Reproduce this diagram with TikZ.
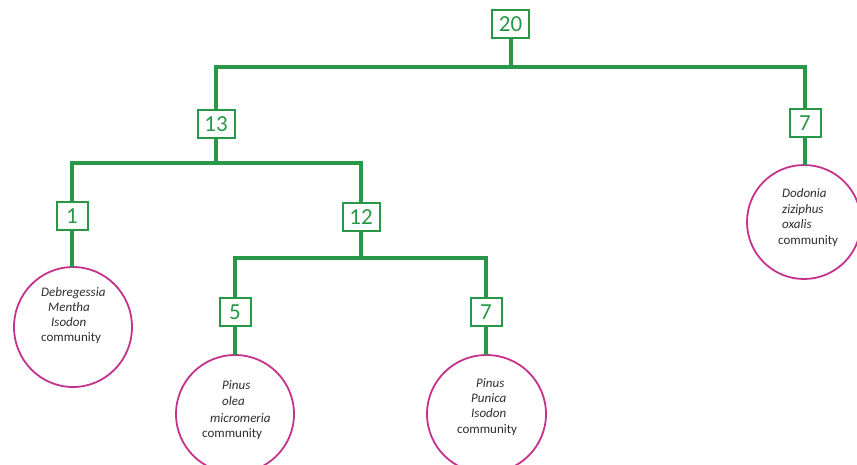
\documentclass[tikz,border=0pt]{standalone}
\usepackage{fontspec}
\setmainfont{Carlito}
\definecolor{tgreen}{RGB}{40,152,72}
\definecolor{tmag}{RGB}{196,50,140}
\definecolor{ttext}{RGB}{45,45,45}
\begin{document}
\begin{tikzpicture}[x=1pt,y=-1pt,
  numbox/.style={draw=tgreen,line width=2pt,text=tgreen,inner sep=0pt,
    minimum height=28pt,font=\fontsize{23}{25}\selectfont},
  wide/.style={minimum width=37pt},
  narrow/.style={minimum width=31pt},
  conn/.style={draw=tgreen,line width=4pt},
  ring/.style={draw=tmag,line width=1.8pt},
  lbl/.style={anchor=base west,inner sep=0pt,text=ttext,font=\fontsize{13}{15}\selectfont},
  sp/.style={lbl,font=\fontsize{13}{15}\selectfont\itshape}]
\useasboundingbox (0,0) rectangle (857,464);
% boxes
\node[numbox,wide] (n20) at (510.5,24) {20};
\node[numbox,wide] (n13) at (216,124) {13};
\node[numbox,narrow] (n7r) at (805,123) {7};
\node[numbox,narrow] (n1) at (72,216) {1};
\node[numbox,wide] (n12) at (361,217) {12};
\node[numbox,narrow] (n5) at (235,312) {5};
\node[numbox,narrow] (n7m) at (486,312) {7};
% junction coordinates
\coordinate (b1) at (510.5,67);
\coordinate (b2) at (216,163);
\coordinate (b3) at (361,258);
% circles
\draw[ring] (73,327) ellipse [x radius=59pt,y radius=60pt];
\coordinate (c1) at (72,267);
\draw[ring] (235,414) ellipse [x radius=59pt,y radius=59pt];
\coordinate (c5) at (235,355);
\draw[ring] (486.5,414) ellipse [x radius=59.5pt,y radius=59pt];
\coordinate (c7m) at (486,355);
\draw[ring] (804,222) ellipse [x radius=57pt,y radius=57pt];
\coordinate (c7r) at (805,165);
% connectors
\draw[conn] (n20.south) -- (b1);
\draw[conn] (n13.north) |- (b1) -| (n7r.north);
\draw[conn] (n13.south) -- (b2);
\draw[conn] (n1.north) |- (b2) -| (n12.north);
\draw[conn] (n12.south) -- (b3);
\draw[conn] (n5.north) |- (b3) -| (n7m.north);
\draw[conn] (n1.south) -- (c1);
\draw[conn] (n5.south) -- (c5);
\draw[conn] (n7m.south) -- (c7m);
\draw[conn] (n7r.south) -- (c7r);
% circle texts
\node[sp] (t1a) at (41,296) {Debregessia};
\node[sp] (t1b) at (48,311) {Mentha};
\node[sp] (t1c) at (51,326) {Isodon};
\node[lbl] (t1d) at (41,341) {community};
\node[sp] (t5a) at (222,389) {Pinus};
\node[sp] (t5b) at (222,405) {olea};
\node[sp] (t5c) at (210,422) {micromeria};
\node[lbl] (t5d) at (202,437) {community};
\node[sp] (t7a) at (476,387) {Pinus};
\node[sp] (t7b) at (471,402) {Punica};
\node[sp] (t7c) at (471,417) {Isodon};
\node[lbl] (t7d) at (457,433) {community};
\node[sp] (t8a) at (782,197) {Dodonia};
\node[sp] (t8b) at (782,213) {ziziphus};
\node[sp] (t8c) at (782,228) {oxalis};
\node[lbl] (t8d) at (778,244) {community};
\end{tikzpicture}
\end{document}
